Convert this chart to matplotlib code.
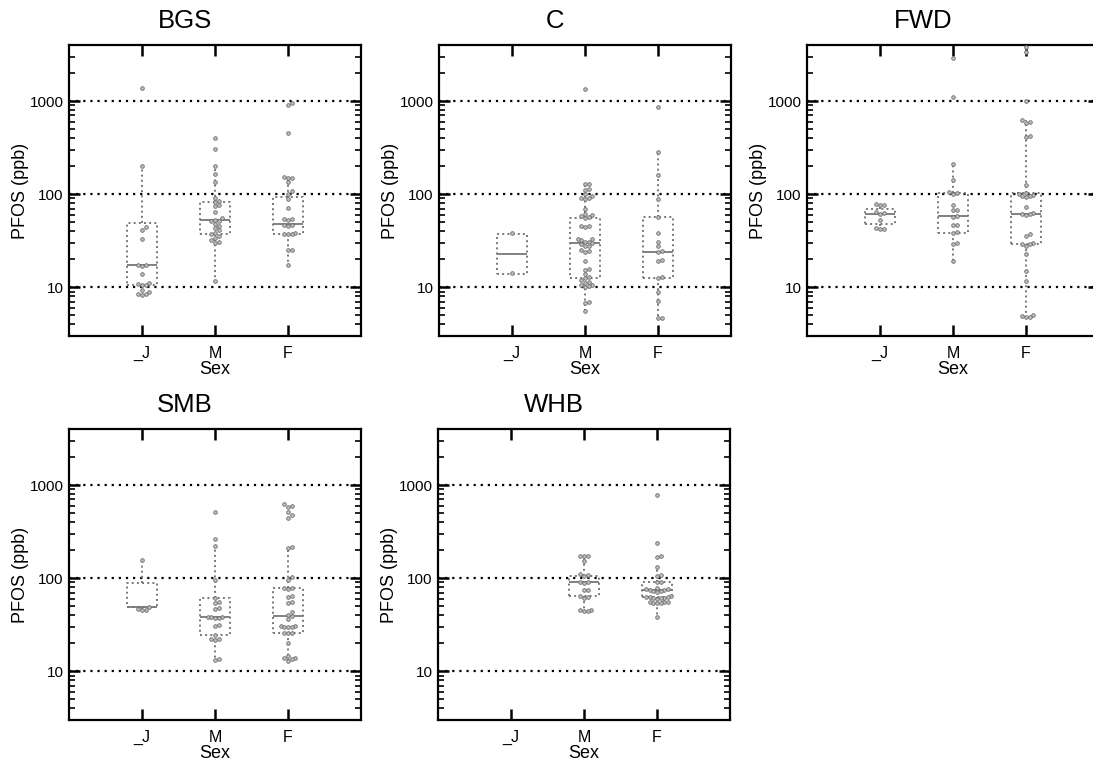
import numpy as np
import matplotlib
matplotlib.use("Agg")
import matplotlib.pyplot as plt
from matplotlib.ticker import NullFormatter

plt.rcParams['font.family'] = ['Liberation Sans', 'DejaVu Sans']

categories = ['_J', 'M', 'F']
panels = ['BGS', 'C', 'FWD', 'SMB', 'WHB']

# PFOS (ppb) values per species / sex
bgs_j = [1370, 200, 44, 41, 33, 17.5, 17.5, 17, 14, 11, 10.8, 10.7, 10.5, 9.3, 9, 8.5, 8.4, 8.3]
bgs_m = [400, 305, 202, 165, 135, 90, 85, 82, 77, 75, 64, 55, 53, 52, 52, 48, 45, 43, 41,
         38, 37, 36, 34, 32, 31, 30, 11.6]
bgs_f = [950, 900, 450, 152, 150, 148, 136, 108, 100, 88, 71, 54, 54, 53, 47, 47, 46,
         38, 37.5, 37, 37, 25, 25, 17.5]

c_j = [38.5, 14.2]
c_m = [1350, 130, 128, 115, 110, 100, 95, 92, 90, 88, 70, 62, 60, 58, 57, 56, 45, 45, 44,
       33, 33, 32, 31, 31, 30, 29, 28, 28, 25, 24.5, 24, 19, 15.8, 15.5, 13.8, 13, 12.5,
       12, 11.5, 11, 10.5, 10.5, 10.3, 10, 7, 6.8, 5.6]
c_f = [870, 285, 160, 88, 57, 38.5, 31, 27.5, 24.5, 24, 19.5, 19.3, 12.8, 12.6, 8.8, 7.2, 4.7, 4.7]

fwd_j = [78, 77, 76, 64, 63, 62, 52.5, 43, 42.5, 42]
fwd_m = [2880, 1100, 210, 142, 106, 103, 100, 77, 68, 67, 58, 57, 47, 47, 39, 38, 30, 29, 19]
fwd_f = [3800, 3400, 1000, 620, 600, 580, 420, 410, 125, 104, 100, 98, 96, 95, 93, 73,
         63, 62, 61, 60, 37, 36, 30, 29.5, 29, 28, 23, 15, 11.7, 5, 4.9, 4.8, 4.8]

smb_j = [157, 49, 47, 46, 45.5]
smb_m = [517, 262, 222, 96, 62, 56, 54, 48, 47, 38.5, 38.2, 38, 37.8, 37.5, 31.5, 31,
         24.5, 22.5, 22, 21.5, 13.5, 13.3]
smb_f = [620, 600, 580, 520, 480, 445, 215, 210, 104, 96, 78, 78, 77, 64, 63, 55, 54, 43,
         40, 39, 36.5, 30.5, 30.3, 30.2, 30, 29.8, 26, 25.5, 25.5, 20, 14.5, 14, 13.8, 13.5, 13]

whb_j = []
whb_m = [175, 173, 171, 153, 110, 108, 106, 92, 90, 88, 75, 74, 64, 63, 62, 45, 45, 44.5, 44]
whb_f = [781, 237, 172, 168, 133, 109, 105, 92, 90, 78, 77, 76, 75, 74, 73, 72, 71,
         64, 63.5, 63, 62.5, 62, 61.5, 61, 60, 56, 55.5, 55, 54.5, 54, 53.5, 38]

# box statistics: (q1, median, q3, whisker low, whisker high)
bgs_box = [(10.7, 17.3, 49, 8.3, 200), (37, 52.5, 83, 11.6, 202), (37.2, 48, 93.5, 17.5, 152)]
c_box = [(14, 23, 37.8, 14, 37.8), (12.7, 30.2, 55.6, 5.6, 130), (12.7, 24.2, 57, 4.7, 285)]
fwd_box = [(48.4, 62, 69, 42, 78), (38.4, 58.5, 103, 19, 210), (29.5, 62, 104, 4.8, 620)]
smb_box = [(48.5, 49.5, 88, 45.5, 157), (24.3, 38.2, 62, 13.3, 222), (25.7, 39.5, 78, 13, 215)]
whb_box = [None, (64, 90, 106, 44, 175), (63.5, 74, 92, 38, 133)]

data = {
    'BGS': ([bgs_j, bgs_m, bgs_f], bgs_box),
    'C': ([c_j, c_m, c_f], c_box),
    'FWD': ([fwd_j, fwd_m, fwd_f], fwd_box),
    'SMB': ([smb_j, smb_m, smb_f], smb_box),
    'WHB': ([whb_j, whb_m, whb_f], whb_box),
}

W, H = 1093, 764
# axes rectangles in pixels: left, top
pos_px = {'BGS': (69, 45), 'C': (439, 45), 'FWD': (807, 45), 'SMB': (69, 429), 'WHB': (438, 429)}
AW, AH = 292, 291


def swarm_offsets(values, d=3.6, px_decade=93.0, px_unit=73.0):
    """Simple beeswarm: horizontal offsets (data units) so dots don't overlap."""
    y = np.log10(np.asarray(values, dtype=float)) * px_decade
    xs = np.zeros(len(y))
    placed = []
    cands = [0.0] + [s * j for j in range(1, 30) for s in (1, -1)]
    for i in np.argsort(y):
        for c in cands:
            x = c * d
            if all((x - px) ** 2 + (y[i] - py) ** 2 >= (d * 0.98) ** 2 for px, py in placed):
                break
        placed.append((x, y[i]))
        xs[i] = x / px_unit
    return xs


fig = plt.figure(figsize=(W / 100, H / 100), dpi=100)

line_kw = dict(color='#777777', linestyle=':', linewidth=1.4)

for name in panels:
    left, top = pos_px[name]
    ax = fig.add_axes([left / W, 1 - (top + AH) / H, AW / W, AH / H])
    ax.set_yscale('log')
    groups, boxes = data[name]

    for i, (vals, box) in enumerate(zip(groups, boxes)):
        if box is not None:
            q1, med, q3, lo, hi = box
            ax.bxp([dict(q1=q1, med=med, q3=q3, whislo=lo, whishi=hi, fliers=[])],
                   positions=[i], widths=0.42, showfliers=False, showcaps=False,
                   boxprops=line_kw, whiskerprops=line_kw,
                   medianprops=dict(color='#777777', linewidth=1.3), manage_ticks=False)
        if vals:
            offs = swarm_offsets(vals)
            ax.plot(i + offs, vals, 'o', ms=2.6, mfc='#c0c0c0', mec='#6a6a6a', mew=0.6,
                    linestyle='none', zorder=4)

    ax.set_xlim(-1, 3)
    ax.set_ylim(3, 4000)
    for g in (10, 100, 1000):
        ax.axhline(g, color='black', linestyle=(0, (1, 2.2)), linewidth=1.6, zorder=1)

    ax.set_xticks(range(len(categories)))
    ax.set_xticklabels(categories, fontsize=11.5)
    ax.set_yticks([10, 100, 1000])
    ax.set_yticklabels(['10', '100', '1000'], fontsize=11)
    ax.yaxis.set_minor_formatter(NullFormatter())
    ax.tick_params(which='major', direction='in', length=8, width=1.8, top=True, right=True, pad=4)
    ax.tick_params(axis='x', which='major', pad=7)
    ax.tick_params(which='minor', direction='in', length=4.5, width=1.2, right=True)
    for sp in ax.spines.values():
        sp.set_linewidth(1.6)

    ax.set_xlabel('Sex', fontsize=13, labelpad=0)
    ax.set_ylabel('PFOS (ppb)', fontsize=13, labelpad=0)
    ax.set_title(name, fontsize=18.5, x=0.397, pad=12)

fig.savefig('out.png', dpi=100)
